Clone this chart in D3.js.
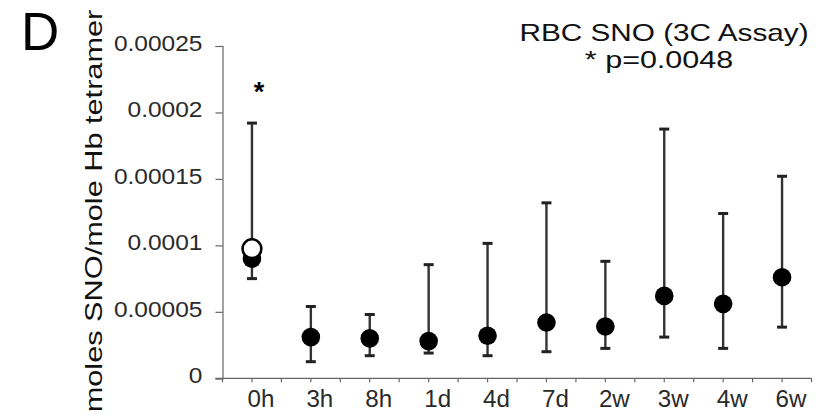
<!DOCTYPE html>
<html>
<head>
<meta charset="utf-8">
<script src="https://cdn.jsdelivr.net/npm/d3@7"></script>
<style>
  html, body { margin: 0; padding: 0; background: #fff; }
  svg { display: block; }
  text { font-family: "Liberation Sans", Arial, sans-serif; }
</style>
</head>
<body>
<svg id="chart" width="826" height="418"></svg>
<script>
// ---- data ----
const categories = ["0h", "3h", "8h", "1d", "4d", "7d", "2w", "3w", "4w", "6w"];
const medians   = [9.0e-5, 3.1e-5, 3.0e-5, 2.8e-5, 3.2e-5, 4.2e-5, 3.9e-5, 6.2e-5, 5.6e-5, 7.6e-5];
const upperErr  = [1.92e-4, 5.4e-5, 4.8e-5, 8.55e-5, 1.015e-4, 1.32e-4, 8.8e-5, 1.875e-4, 1.24e-4, 1.52e-4];
const lowerErr  = [7.5e-5, 1.25e-5, 1.7e-5, 1.9e-5, 1.7e-5, 2.0e-5, 2.25e-5, 3.1e-5, 2.25e-5, 3.85e-5];
const openCategory = ["0h"];
const openValues   = [9.75e-5];
const yTickValues = [0, 0.00005, 0.0001, 0.00015, 0.0002, 0.00025];
const yTickLabels = ["0", "0.00005", "0.0001", "0.00015", "0.0002", "0.00025"];
const titleLines = ["RBC SNO (3C Assay)", "* p=0.0048"];
const yLabel = "moles SNO/mole Hb tetramer";
const panelLetter = "D";
const sigCategory = "0h";

// ---- layout ----
const svg = d3.select("#chart");
const plotLeft = 222.5, plotRight = 811.5, plotTop = 46, plotBottom = 378.3;

const x = d3.scaleBand().domain(categories).range([plotLeft, plotRight]).padding(0);
const y = d3.scaleLinear().domain([0, 0.00025]).range([plotBottom, plotTop]);

// helper: text stretched along its own direction
function label(g, tx, ty, str, size, sx, anchor, rot, fill) {
  return g.append("text")
    .attr("transform", `translate(${tx},${ty})` + (rot ? ` rotate(${rot})` : "") + ` scale(${sx},1)`)
    .attr("text-anchor", anchor).attr("font-size", size).attr("fill", fill || "#1a1a1a")
    .text(str);
}

// y axis
const yAxis = d3.axisLeft(y).tickValues(yTickValues).tickFormat("").tickSize(7);
const gy = svg.append("g").attr("transform", `translate(${plotLeft},0)`).call(yAxis);
gy.select(".domain").attr("stroke", "#666").attr("stroke-width", 1.2);
gy.selectAll(".tick line").attr("stroke", "#666").attr("stroke-width", 1.2);
yTickValues.forEach((v, i) => {
  label(svg, plotLeft - 20, y(v) + 5, yTickLabels[i], 21.5, 1.14, "end", 0, "#2a2a2a");
});

// x axis: ticks at band centers and boundaries
const xAxisG = svg.append("g").attr("transform", `translate(0,${plotBottom})`);
xAxisG.append("line").attr("x1", plotLeft - 7).attr("x2", plotRight).attr("y1", 0).attr("y2", 0)
  .attr("stroke", "#666").attr("stroke-width", 1.2);
const tickXs = [];
categories.forEach((c) => {
  tickXs.push(x(c));
  tickXs.push(x(c) + x.bandwidth() / 2);
});
tickXs.push(plotRight);
xAxisG.selectAll("line.tk").data(tickXs).enter().append("line").attr("class", "tk")
  .attr("x1", d => d).attr("x2", d => d).attr("y1", 0).attr("y2", 4)
  .attr("stroke", "#666").attr("stroke-width", 1.2);
categories.forEach(c => {
  label(xAxisG, x(c) + x.bandwidth() / 2 + 9, 29, c, 23, 1.05, "middle", 0, "#2a2a2a");
});

// error bars
const cx = d => x(d) + x.bandwidth() / 2;
const eb = svg.append("g");
categories.forEach((c, i) => {
  eb.append("line").attr("x1", cx(c)).attr("x2", cx(c))
    .attr("y1", y(upperErr[i])).attr("y2", y(lowerErr[i]))
    .attr("stroke", "#333").attr("stroke-width", 2.4);
  [upperErr[i], lowerErr[i]].forEach(v => {
    eb.append("line").attr("x1", cx(c) - 5).attr("x2", cx(c) + 5)
      .attr("y1", y(v)).attr("y2", y(v))
      .attr("stroke", "#222").attr("stroke-width", 3);
  });
});

// filled dots
svg.append("g").selectAll("circle").data(categories).enter().append("circle")
  .attr("cx", d => cx(d)).attr("cy", (d, i) => y(medians[i]))
  .attr("r", 9.3).attr("fill", "#000");

// open circle
svg.append("g").selectAll("circle").data(openCategory).enter().append("circle")
  .attr("cx", d => cx(d)).attr("cy", (d, i) => y(openValues[i]))
  .attr("r", 9.4).attr("fill", "#fff").attr("stroke", "#000").attr("stroke-width", 2.6);

// significance asterisk
const si = categories.indexOf(sigCategory);
svg.append("text").attr("x", cx(sigCategory) + 7).attr("y", y(upperErr[si]) - 22)
  .attr("text-anchor", "middle").attr("font-size", 27).attr("font-weight", "bold")
  .attr("fill", "#000").text("*");

// title
label(svg, 664, 41, titleLines[0], 24, 1.24, "middle", 0, "#111");
label(svg, 659, 68, titleLines[1], 24, 1.27, "middle", 0, "#111");

// y label
label(svg, 102, 211, yLabel, 24, 1.28, "middle", -90, "#111");

// panel letter
svg.append("text").attr("x", 21).attr("y", 50).attr("font-size", 53).attr("fill", "#000")
  .text(panelLetter);
</script>
</body>
</html>
